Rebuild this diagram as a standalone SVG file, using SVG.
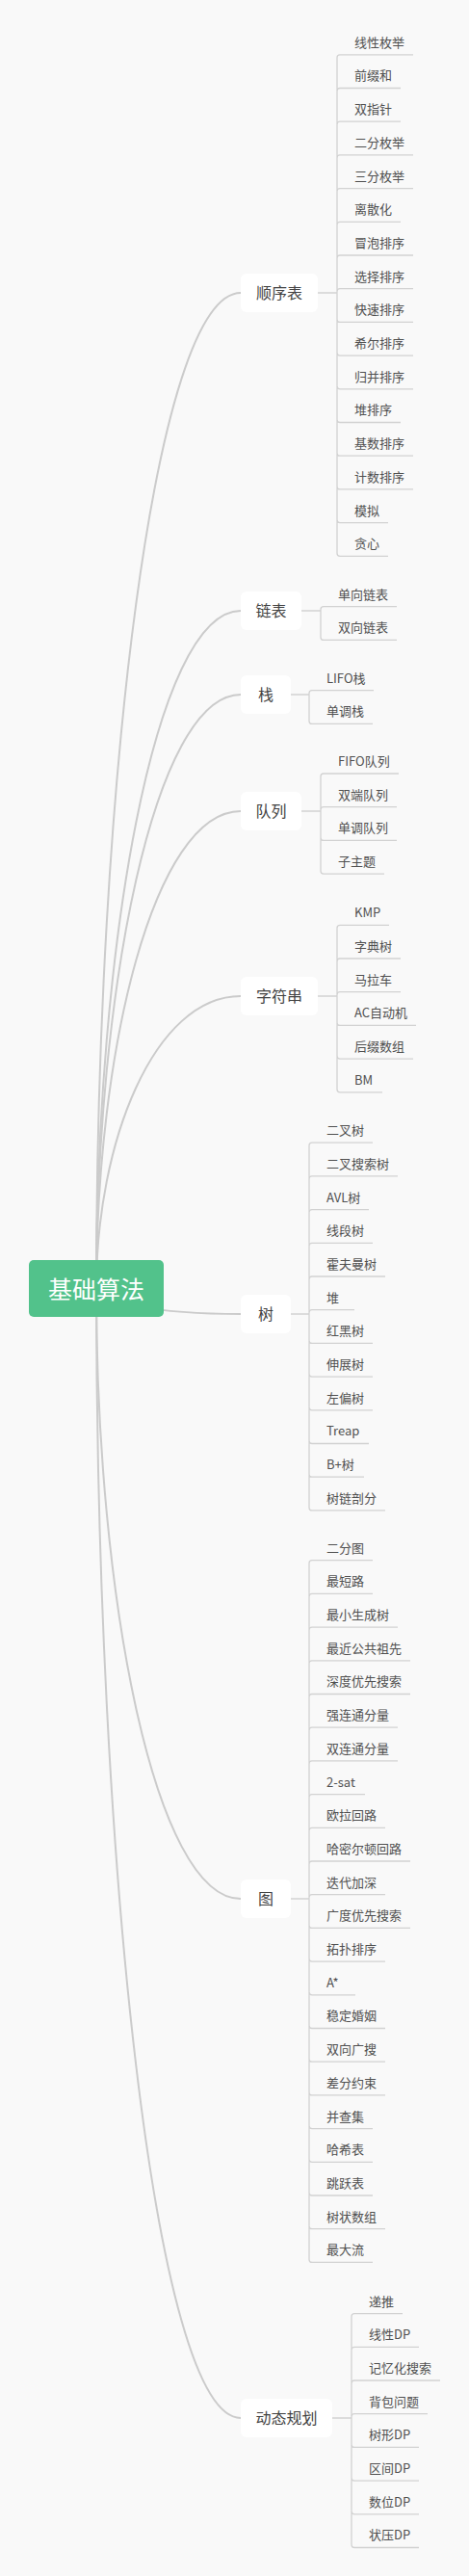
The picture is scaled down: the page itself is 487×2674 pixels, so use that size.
<svg xmlns="http://www.w3.org/2000/svg" width="487" height="2674" viewBox="0 0 487 2674">
<style>
.bg{fill:#f9f9f9}
.main{fill:none;stroke:#cbcbcb;stroke-width:2;stroke-linecap:round}
.sub{fill:none;stroke:#d2d2d2;stroke-width:1.3}
.ul{stroke:#d2d2d2;stroke-width:1.3}
.leaf text{font-family:"Noto Sans CJK SC","Noto Sans",sans-serif;font-size:13px;fill:#505050}
.node rect{fill:#ffffff}
.node text{font-family:"Noto Sans CJK SC","Noto Sans",sans-serif;font-size:16px;fill:#424242;text-anchor:middle}
.root rect{fill:#52c28b}
.root text{font-family:"Noto Sans CJK SC","Noto Sans",sans-serif;font-size:25px;fill:#ffffff;text-anchor:middle}
</style>
<rect class="bg" x="0" y="0" width="487" height="2674"/>
<g id="connectors">
<path class="main" d="M100 1338C100 821 160 304 250 304"/>
<path class="main" d="M100 1338C100 986 160 634 250 634"/>
<path class="main" d="M100 1338C100 1029.5 160 721 250 721"/>
<path class="main" d="M100 1338C100 1090 160 842 250 842"/>
<path class="main" d="M100 1338C100 1186 160 1034 250 1034"/>
<path class="main" d="M100 1338C100 1351 160 1364 250 1364"/>
<path class="main" d="M100 1338C100 1654.5 160 1971 250 1971"/>
<path class="main" d="M100 1338C100 1924 160 2510 250 2510"/>
<path class="sub" d="M330 304H350M350 304V59.8Q350 56.8 353 56.8M350 304V94.5Q350 91.5 353 91.5M350 304V129.2Q350 126.2 353 126.2M350 304V163.9Q350 160.9 353 160.9M350 304V198.6Q350 195.6 353 195.6M350 304V233.3Q350 230.3 353 230.3M350 304V268Q350 265 353 265M350 304V302.7Q350 299.7 353 299.7M350 304V331.4Q350 334.4 353 334.4M350 304V366.1Q350 369.1 353 369.1M350 304V400.8Q350 403.8 353 403.8M350 304V435.5Q350 438.5 353 438.5M350 304V470.2Q350 473.2 353 473.2M350 304V504.9Q350 507.9 353 507.9M350 304V539.6Q350 542.6 353 542.6M350 304V574.3Q350 577.3 353 577.3"/>
<path class="sub" d="M313 634H333M333 634V632.7Q333 629.7 336 629.7M333 634V661.4Q333 664.4 336 664.4"/>
<path class="sub" d="M302 721H321M321 721V719.7Q321 716.7 324 716.7M321 721V748.4Q321 751.4 324 751.4"/>
<path class="sub" d="M313 842H333M333 842V806Q333 803 336 803M333 842V840.7Q333 837.7 336 837.7M333 842V869.4Q333 872.4 336 872.4M333 842V904.1Q333 907.1 336 907.1"/>
<path class="sub" d="M330 1034H350M350 1034V963.3Q350 960.3 353 960.3M350 1034V998Q350 995 353 995M350 1034V1032.7Q350 1029.7 353 1029.7M350 1034V1061.4Q350 1064.4 353 1064.4M350 1034V1096.1Q350 1099.1 353 1099.1M350 1034V1130.8Q350 1133.8 353 1133.8"/>
<path class="sub" d="M302 1364H321M321 1364V1189.2Q321 1186.2 324 1186.2M321 1364V1223.9Q321 1220.9 324 1220.9M321 1364V1258.6Q321 1255.6 324 1255.6M321 1364V1293.3Q321 1290.3 324 1290.3M321 1364V1328Q321 1325 324 1325M321 1364V1362.7Q321 1359.7 324 1359.7M321 1364V1391.4Q321 1394.4 324 1394.4M321 1364V1426.1Q321 1429.1 324 1429.1M321 1364V1460.8Q321 1463.8 324 1463.8M321 1364V1495.5Q321 1498.5 324 1498.5M321 1364V1530.2Q321 1533.2 324 1533.2M321 1364V1564.9Q321 1567.9 324 1567.9"/>
<path class="sub" d="M302 1971H321M321 1971V1622.7Q321 1619.7 324 1619.7M321 1971V1657.4Q321 1654.4 324 1654.4M321 1971V1692.1Q321 1689.1 324 1689.1M321 1971V1726.8Q321 1723.8 324 1723.8M321 1971V1761.5Q321 1758.5 324 1758.5M321 1971V1796.2Q321 1793.2 324 1793.2M321 1971V1830.9Q321 1827.9 324 1827.9M321 1971V1865.6Q321 1862.6 324 1862.6M321 1971V1900.3Q321 1897.3 324 1897.3M321 1971V1935Q321 1932 324 1932M321 1971V1969.7Q321 1966.7 324 1966.7M321 1971V1998.4Q321 2001.4 324 2001.4M321 1971V2033.1Q321 2036.1 324 2036.1M321 1971V2067.8Q321 2070.8 324 2070.8M321 1971V2102.5Q321 2105.5 324 2105.5M321 1971V2137.2Q321 2140.2 324 2140.2M321 1971V2171.9Q321 2174.9 324 2174.9M321 1971V2206.6Q321 2209.6 324 2209.6M321 1971V2241.3Q321 2244.3 324 2244.3M321 1971V2276Q321 2279 324 2279M321 1971V2310.7Q321 2313.7 324 2313.7M321 1971V2345.4Q321 2348.4 324 2348.4"/>
<path class="sub" d="M345 2510H365M365 2510V2404.6Q365 2401.6 368 2401.6M365 2510V2439.3Q365 2436.3 368 2436.3M365 2510V2474Q365 2471 368 2471M365 2510V2508.7Q365 2505.7 368 2505.7M365 2510V2537.4Q365 2540.4 368 2540.4M365 2510V2572.1Q365 2575.1 368 2575.1M365 2510V2606.8Q365 2609.8 368 2609.8M365 2510V2641.5Q365 2644.5 368 2644.5"/>
</g>
<g id="root" class="root"><rect x="30" y="1308" width="140" height="59" rx="5"/><text x="100" y="1347.5">基础算法</text></g>
<g id="n-seq" class="node"><rect x="250" y="284" width="80" height="40" rx="6"/><text x="290" y="310">顺序表</text></g>
<g id="n-list" class="node"><rect x="250" y="614" width="63" height="40" rx="6"/><text x="281.5" y="640">链表</text></g>
<g id="n-stack" class="node"><rect x="250" y="701" width="52" height="40" rx="6"/><text x="276" y="727">栈</text></g>
<g id="n-queue" class="node"><rect x="250" y="822" width="63" height="40" rx="6"/><text x="281.5" y="848">队列</text></g>
<g id="n-string" class="node"><rect x="250" y="1014" width="80" height="40" rx="6"/><text x="290" y="1040">字符串</text></g>
<g id="n-tree" class="node"><rect x="250" y="1344" width="52" height="40" rx="6"/><text x="276" y="1370">树</text></g>
<g id="n-graph" class="node"><rect x="250" y="1951" width="52" height="40" rx="6"/><text x="276" y="1977">图</text></g>
<g id="n-dp" class="node"><rect x="250" y="2490" width="95" height="40" rx="6"/><text x="297.5" y="2516">动态规划</text></g>
<g id="l-seq-0" class="leaf"><line class="ul" x1="353" y1="56.8" x2="429" y2="56.8"/><text x="368" y="48.7">线性枚举</text></g>
<g id="l-seq-1" class="leaf"><line class="ul" x1="353" y1="91.5" x2="416" y2="91.5"/><text x="368" y="83.4">前缀和</text></g>
<g id="l-seq-2" class="leaf"><line class="ul" x1="353" y1="126.2" x2="416" y2="126.2"/><text x="368" y="118.1">双指针</text></g>
<g id="l-seq-3" class="leaf"><line class="ul" x1="353" y1="160.9" x2="429" y2="160.9"/><text x="368" y="152.8">二分枚举</text></g>
<g id="l-seq-4" class="leaf"><line class="ul" x1="353" y1="195.6" x2="429" y2="195.6"/><text x="368" y="187.5">三分枚举</text></g>
<g id="l-seq-5" class="leaf"><line class="ul" x1="353" y1="230.3" x2="416" y2="230.3"/><text x="368" y="222.2">离散化</text></g>
<g id="l-seq-6" class="leaf"><line class="ul" x1="353" y1="265" x2="429" y2="265"/><text x="368" y="256.9">冒泡排序</text></g>
<g id="l-seq-7" class="leaf"><line class="ul" x1="353" y1="299.7" x2="429" y2="299.7"/><text x="368" y="291.6">选择排序</text></g>
<g id="l-seq-8" class="leaf"><line class="ul" x1="353" y1="334.4" x2="429" y2="334.4"/><text x="368" y="326.3">快速排序</text></g>
<g id="l-seq-9" class="leaf"><line class="ul" x1="353" y1="369.1" x2="429" y2="369.1"/><text x="368" y="361">希尔排序</text></g>
<g id="l-seq-10" class="leaf"><line class="ul" x1="353" y1="403.8" x2="429" y2="403.8"/><text x="368" y="395.7">归并排序</text></g>
<g id="l-seq-11" class="leaf"><line class="ul" x1="353" y1="438.5" x2="416" y2="438.5"/><text x="368" y="430.4">堆排序</text></g>
<g id="l-seq-12" class="leaf"><line class="ul" x1="353" y1="473.2" x2="429" y2="473.2"/><text x="368" y="465.1">基数排序</text></g>
<g id="l-seq-13" class="leaf"><line class="ul" x1="353" y1="507.9" x2="429" y2="507.9"/><text x="368" y="499.8">计数排序</text></g>
<g id="l-seq-14" class="leaf"><line class="ul" x1="353" y1="542.6" x2="403" y2="542.6"/><text x="368" y="534.5">模拟</text></g>
<g id="l-seq-15" class="leaf"><line class="ul" x1="353" y1="577.3" x2="403" y2="577.3"/><text x="368" y="569.2">贪心</text></g>
<g id="l-list-0" class="leaf"><line class="ul" x1="336" y1="629.7" x2="412" y2="629.7"/><text x="351" y="621.6">单向链表</text></g>
<g id="l-list-1" class="leaf"><line class="ul" x1="336" y1="664.4" x2="412" y2="664.4"/><text x="351" y="656.3">双向链表</text></g>
<g id="l-stack-0" class="leaf"><line class="ul" x1="324" y1="716.7" x2="388" y2="716.7"/><text x="339" y="708.6">LIFO栈</text></g>
<g id="l-stack-1" class="leaf"><line class="ul" x1="324" y1="751.4" x2="387" y2="751.4"/><text x="339" y="743.3">单调栈</text></g>
<g id="l-queue-0" class="leaf"><line class="ul" x1="336" y1="803" x2="414" y2="803"/><text x="351" y="794.9">FIFO队列</text></g>
<g id="l-queue-1" class="leaf"><line class="ul" x1="336" y1="837.7" x2="412" y2="837.7"/><text x="351" y="829.6">双端队列</text></g>
<g id="l-queue-2" class="leaf"><line class="ul" x1="336" y1="872.4" x2="412" y2="872.4"/><text x="351" y="864.3">单调队列</text></g>
<g id="l-queue-3" class="leaf"><line class="ul" x1="336" y1="907.1" x2="399" y2="907.1"/><text x="351" y="899">子主题</text></g>
<g id="l-str-0" class="leaf"><line class="ul" x1="353" y1="960.3" x2="404" y2="960.3"/><text x="368" y="952.2">KMP</text></g>
<g id="l-str-1" class="leaf"><line class="ul" x1="353" y1="995" x2="416" y2="995"/><text x="368" y="986.9">字典树</text></g>
<g id="l-str-2" class="leaf"><line class="ul" x1="353" y1="1029.7" x2="416" y2="1029.7"/><text x="368" y="1021.6">马拉车</text></g>
<g id="l-str-3" class="leaf"><line class="ul" x1="353" y1="1064.4" x2="432" y2="1064.4"/><text x="368" y="1056.3">AC自动机</text></g>
<g id="l-str-4" class="leaf"><line class="ul" x1="353" y1="1099.1" x2="429" y2="1099.1"/><text x="368" y="1091">后缀数组</text></g>
<g id="l-str-5" class="leaf"><line class="ul" x1="353" y1="1133.8" x2="397" y2="1133.8"/><text x="368" y="1125.7">BM</text></g>
<g id="l-tree-0" class="leaf"><line class="ul" x1="324" y1="1186.2" x2="387" y2="1186.2"/><text x="339" y="1178.1">二叉树</text></g>
<g id="l-tree-1" class="leaf"><line class="ul" x1="324" y1="1220.9" x2="413" y2="1220.9"/><text x="339" y="1212.8">二叉搜索树</text></g>
<g id="l-tree-2" class="leaf"><line class="ul" x1="324" y1="1255.6" x2="383" y2="1255.6"/><text x="339" y="1247.5">AVL树</text></g>
<g id="l-tree-3" class="leaf"><line class="ul" x1="324" y1="1290.3" x2="387" y2="1290.3"/><text x="339" y="1282.2">线段树</text></g>
<g id="l-tree-4" class="leaf"><line class="ul" x1="324" y1="1325" x2="400" y2="1325"/><text x="339" y="1316.9">霍夫曼树</text></g>
<g id="l-tree-5" class="leaf"><line class="ul" x1="324" y1="1359.7" x2="368" y2="1359.7"/><text x="339" y="1351.6">堆</text></g>
<g id="l-tree-6" class="leaf"><line class="ul" x1="324" y1="1394.4" x2="387" y2="1394.4"/><text x="339" y="1386.3">红黑树</text></g>
<g id="l-tree-7" class="leaf"><line class="ul" x1="324" y1="1429.1" x2="387" y2="1429.1"/><text x="339" y="1421">伸展树</text></g>
<g id="l-tree-8" class="leaf"><line class="ul" x1="324" y1="1463.8" x2="387" y2="1463.8"/><text x="339" y="1455.7">左偏树</text></g>
<g id="l-tree-9" class="leaf"><line class="ul" x1="324" y1="1498.5" x2="383" y2="1498.5"/><text x="339" y="1490.4">Treap</text></g>
<g id="l-tree-10" class="leaf"><line class="ul" x1="324" y1="1533.2" x2="378" y2="1533.2"/><text x="339" y="1525.1">B+树</text></g>
<g id="l-tree-11" class="leaf"><line class="ul" x1="324" y1="1567.9" x2="400" y2="1567.9"/><text x="339" y="1559.8">树链剖分</text></g>
<g id="l-graph-0" class="leaf"><line class="ul" x1="324" y1="1619.7" x2="387" y2="1619.7"/><text x="339" y="1611.6">二分图</text></g>
<g id="l-graph-1" class="leaf"><line class="ul" x1="324" y1="1654.4" x2="387" y2="1654.4"/><text x="339" y="1646.3">最短路</text></g>
<g id="l-graph-2" class="leaf"><line class="ul" x1="324" y1="1689.1" x2="413" y2="1689.1"/><text x="339" y="1681">最小生成树</text></g>
<g id="l-graph-3" class="leaf"><line class="ul" x1="324" y1="1723.8" x2="426" y2="1723.8"/><text x="339" y="1715.7">最近公共祖先</text></g>
<g id="l-graph-4" class="leaf"><line class="ul" x1="324" y1="1758.5" x2="426" y2="1758.5"/><text x="339" y="1750.4">深度优先搜索</text></g>
<g id="l-graph-5" class="leaf"><line class="ul" x1="324" y1="1793.2" x2="413" y2="1793.2"/><text x="339" y="1785.1">强连通分量</text></g>
<g id="l-graph-6" class="leaf"><line class="ul" x1="324" y1="1827.9" x2="413" y2="1827.9"/><text x="339" y="1819.8">双连通分量</text></g>
<g id="l-graph-7" class="leaf"><line class="ul" x1="324" y1="1862.6" x2="379" y2="1862.6"/><text x="339" y="1854.5">2-sat</text></g>
<g id="l-graph-8" class="leaf"><line class="ul" x1="324" y1="1897.3" x2="400" y2="1897.3"/><text x="339" y="1889.2">欧拉回路</text></g>
<g id="l-graph-9" class="leaf"><line class="ul" x1="324" y1="1932" x2="426" y2="1932"/><text x="339" y="1923.9">哈密尔顿回路</text></g>
<g id="l-graph-10" class="leaf"><line class="ul" x1="324" y1="1966.7" x2="400" y2="1966.7"/><text x="339" y="1958.6">迭代加深</text></g>
<g id="l-graph-11" class="leaf"><line class="ul" x1="324" y1="2001.4" x2="426" y2="2001.4"/><text x="339" y="1993.3">广度优先搜索</text></g>
<g id="l-graph-12" class="leaf"><line class="ul" x1="324" y1="2036.1" x2="400" y2="2036.1"/><text x="339" y="2028">拓扑排序</text></g>
<g id="l-graph-13" class="leaf"><line class="ul" x1="324" y1="2070.8" x2="369" y2="2070.8"/><text x="339" y="2062.7">A*</text></g>
<g id="l-graph-14" class="leaf"><line class="ul" x1="324" y1="2105.5" x2="400" y2="2105.5"/><text x="339" y="2097.4">稳定婚姻</text></g>
<g id="l-graph-15" class="leaf"><line class="ul" x1="324" y1="2140.2" x2="400" y2="2140.2"/><text x="339" y="2132.1">双向广搜</text></g>
<g id="l-graph-16" class="leaf"><line class="ul" x1="324" y1="2174.9" x2="400" y2="2174.9"/><text x="339" y="2166.8">差分约束</text></g>
<g id="l-graph-17" class="leaf"><line class="ul" x1="324" y1="2209.6" x2="387" y2="2209.6"/><text x="339" y="2201.5">并查集</text></g>
<g id="l-graph-18" class="leaf"><line class="ul" x1="324" y1="2244.3" x2="387" y2="2244.3"/><text x="339" y="2236.2">哈希表</text></g>
<g id="l-graph-19" class="leaf"><line class="ul" x1="324" y1="2279" x2="387" y2="2279"/><text x="339" y="2270.9">跳跃表</text></g>
<g id="l-graph-20" class="leaf"><line class="ul" x1="324" y1="2313.7" x2="400" y2="2313.7"/><text x="339" y="2305.6">树状数组</text></g>
<g id="l-graph-21" class="leaf"><line class="ul" x1="324" y1="2348.4" x2="387" y2="2348.4"/><text x="339" y="2340.3">最大流</text></g>
<g id="l-dp-0" class="leaf"><line class="ul" x1="368" y1="2401.6" x2="418" y2="2401.6"/><text x="383" y="2393.5">递推</text></g>
<g id="l-dp-1" class="leaf"><line class="ul" x1="368" y1="2436.3" x2="435" y2="2436.3"/><text x="383" y="2428.2">线性DP</text></g>
<g id="l-dp-2" class="leaf"><line class="ul" x1="368" y1="2471" x2="457" y2="2471"/><text x="383" y="2462.9">记忆化搜索</text></g>
<g id="l-dp-3" class="leaf"><line class="ul" x1="368" y1="2505.7" x2="444" y2="2505.7"/><text x="383" y="2497.6">背包问题</text></g>
<g id="l-dp-4" class="leaf"><line class="ul" x1="368" y1="2540.4" x2="435" y2="2540.4"/><text x="383" y="2532.3">树形DP</text></g>
<g id="l-dp-5" class="leaf"><line class="ul" x1="368" y1="2575.1" x2="435" y2="2575.1"/><text x="383" y="2567">区间DP</text></g>
<g id="l-dp-6" class="leaf"><line class="ul" x1="368" y1="2609.8" x2="435" y2="2609.8"/><text x="383" y="2601.7">数位DP</text></g>
<g id="l-dp-7" class="leaf"><line class="ul" x1="368" y1="2644.5" x2="435" y2="2644.5"/><text x="383" y="2636.4">状压DP</text></g>
</svg>
